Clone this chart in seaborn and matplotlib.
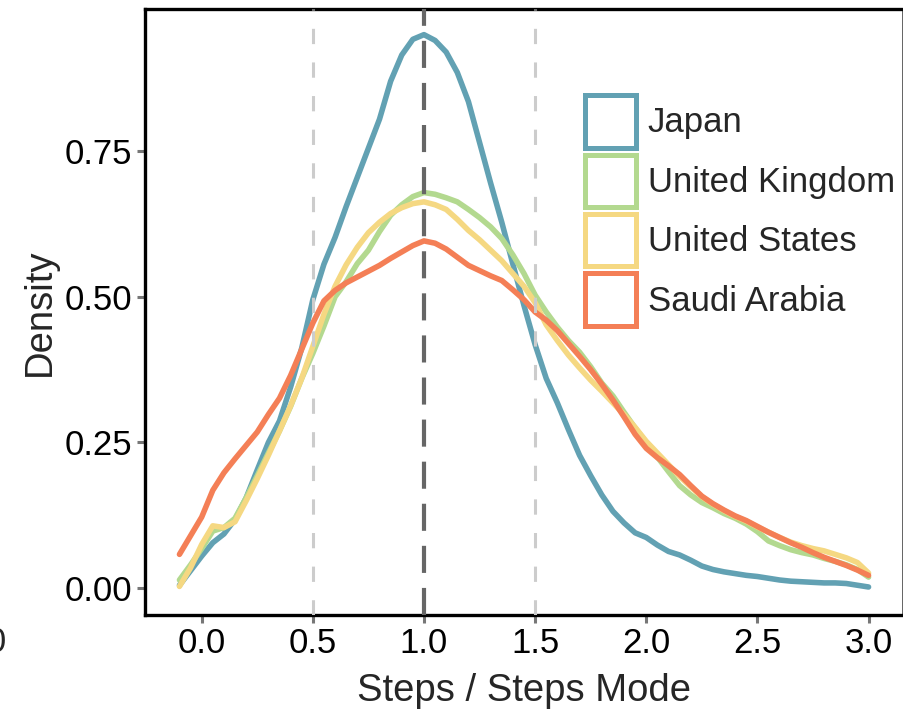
import numpy as np
import pandas as pd
import seaborn as sns
from matplotlib import pyplot as plt
from matplotlib.patches import Patch

# x grid (Steps / Steps Mode) and density
x_grid = [-0.10, -0.05, 0.00, 0.05, 0.10, 0.15, 0.20, 0.25, 0.30, 0.35,
          0.40, 0.45, 0.50, 0.55, 0.60, 0.65, 0.70, 0.75, 0.80, 0.85,
          0.90, 0.95, 1.00, 1.05, 1.10, 1.15, 1.20, 1.25, 1.30, 1.35,
          1.40, 1.45, 1.50, 1.55, 1.60, 1.65, 1.70, 1.75, 1.80, 1.85,
          1.90, 1.95, 2.00, 2.05, 2.10, 2.15, 2.20, 2.25, 2.30, 2.35,
          2.40, 2.45, 2.50, 2.55, 2.60, 2.65, 2.70, 2.75, 2.80, 2.85,
          2.90, 2.95, 3.00]

japan = [0.005, 0.030, 0.055, 0.078, 0.093, 0.118, 0.155, 0.203, 0.250, 0.287,
         0.345, 0.412, 0.495, 0.556, 0.602, 0.655, 0.705, 0.755, 0.805, 0.870,
         0.915, 0.942, 0.950, 0.940, 0.920, 0.885, 0.835, 0.765, 0.695, 0.628,
         0.556, 0.485, 0.418, 0.360, 0.318, 0.272, 0.228, 0.193, 0.160, 0.132,
         0.112, 0.095, 0.087, 0.074, 0.063, 0.057, 0.048, 0.038, 0.032, 0.028,
         0.025, 0.022, 0.020, 0.017, 0.014, 0.012, 0.011, 0.010, 0.009, 0.009,
         0.008, 0.005, 0.002]

uk = [0.014, 0.040, 0.068, 0.098, 0.104, 0.120, 0.155, 0.193, 0.232, 0.270,
      0.312, 0.360, 0.403, 0.450, 0.500, 0.526, 0.557, 0.580, 0.612, 0.640,
      0.658, 0.672, 0.679, 0.676, 0.670, 0.663, 0.650, 0.636, 0.620, 0.600,
      0.572, 0.540, 0.503, 0.474, 0.448, 0.425, 0.405, 0.380, 0.352, 0.330,
      0.302, 0.275, 0.250, 0.225, 0.200, 0.176, 0.160, 0.147, 0.138, 0.128,
      0.120, 0.110, 0.097, 0.081, 0.073, 0.066, 0.061, 0.057, 0.051, 0.046,
      0.040, 0.032, 0.019]

us = [0.003, 0.035, 0.075, 0.107, 0.104, 0.114, 0.150, 0.188, 0.228, 0.270,
      0.313, 0.360, 0.415, 0.470, 0.518, 0.555, 0.585, 0.610, 0.628, 0.643,
      0.653, 0.660, 0.663, 0.658, 0.650, 0.633, 0.614, 0.598, 0.580, 0.562,
      0.540, 0.518, 0.490, 0.452, 0.425, 0.400, 0.378, 0.357, 0.338, 0.318,
      0.298, 0.276, 0.252, 0.232, 0.212, 0.192, 0.174, 0.157, 0.144, 0.133,
      0.123, 0.115, 0.105, 0.096, 0.087, 0.079, 0.073, 0.068, 0.064, 0.058,
      0.052, 0.044, 0.026]

saudi = [0.058, 0.090, 0.122, 0.168, 0.198, 0.222, 0.245, 0.268, 0.298, 0.326,
         0.365, 0.410, 0.455, 0.493, 0.511, 0.524, 0.534, 0.544, 0.554, 0.566,
         0.577, 0.588, 0.596, 0.592, 0.582, 0.568, 0.554, 0.545, 0.536, 0.528,
         0.512, 0.495, 0.474, 0.460, 0.442, 0.420, 0.398, 0.375, 0.350, 0.323,
         0.294, 0.264, 0.240, 0.224, 0.210, 0.195, 0.176, 0.158, 0.145, 0.134,
         0.124, 0.116, 0.106, 0.096, 0.087, 0.078, 0.070, 0.061, 0.053, 0.046,
         0.039, 0.031, 0.022]

countries = ["Japan", "United Kingdom", "United States", "Saudi Arabia"]
colors = ["#62A1B3", "#B3D98F", "#F5D882", "#F47F56"]
ref_lines = [0.5, 1.0, 1.5]
x_ticks = [0.0, 0.5, 1.0, 1.5, 2.0, 2.5, 3.0]
y_ticks = [0.00, 0.25, 0.50, 0.75]

df = pd.DataFrame({
    "x": x_grid * 4,
    "density": japan + uk + us + saudi,
    "country": np.repeat(countries, len(x_grid)),
})

sns.set_theme(style="white")
plt.rcParams["font.family"] = ["Liberation Sans", "DejaVu Sans"]

fig = plt.figure(figsize=(9.04, 7.14), dpi=100)
ax = fig.add_axes([0.1604, 0.1387, 0.8385, 0.8487])

sns.lineplot(data=df, x="x", y="density", hue="country", hue_order=countries,
             palette=colors, linewidth=4.0, legend=False, ax=ax)

# reference lines drawn on top of the curves
for v in ref_lines:
    if v == 1.0:
        ax.axvline(v, color="#666666", lw=3.0, ls=(0, (6.5, 3.6)), zorder=5)
    else:
        ax.axvline(v, color="#CCCCCC", lw=2.2, ls=(0, (5.0, 6.0)), zorder=5)

ax.set_xlim(-0.255, 3.155)
ax.set_ylim(-0.046, 0.994)
ax.set_xticks(x_ticks)
ax.set_xticklabels([f"{t:.1f}" for t in x_ticks])
ax.set_yticks(y_ticks)
ax.set_yticklabels([f"{t:.2f}" for t in y_ticks])
ax.tick_params(axis="both", which="major", length=6, width=2.2, color="#777777",
               labelsize=25, labelcolor="black", pad=3, bottom=True, left=True)
ax.set_xlabel("Steps / Steps Mode", fontsize=27.5, labelpad=9)
ax.set_ylabel("Density", fontsize=27.5, labelpad=5)

for side in ["left", "bottom", "top"]:
    ax.spines[side].set_color("black")
    ax.spines[side].set_linewidth(2.4)
ax.spines["right"].set_color("#555555")
ax.spines["right"].set_linewidth(2.0)

handles = [Patch(facecolor="white", edgecolor=c, linewidth=3.6, label=n)
           for c, n in zip(colors, countries)]
ax.legend(handles=handles, loc="upper left", bbox_to_anchor=(0.581, 0.858),
          frameon=False, fontsize=25, borderpad=0, borderaxespad=0,
          handlelength=1.45, handleheight=1.95, labelspacing=0.2,
          handletextpad=0.35)

# cut-off tick label of the neighbouring panel at the left edge
fig.text(7 / 904, (714 - 626) / 714, "3.0", ha="right", va="top", fontsize=25)

fig.savefig("out.png", dpi=100)
